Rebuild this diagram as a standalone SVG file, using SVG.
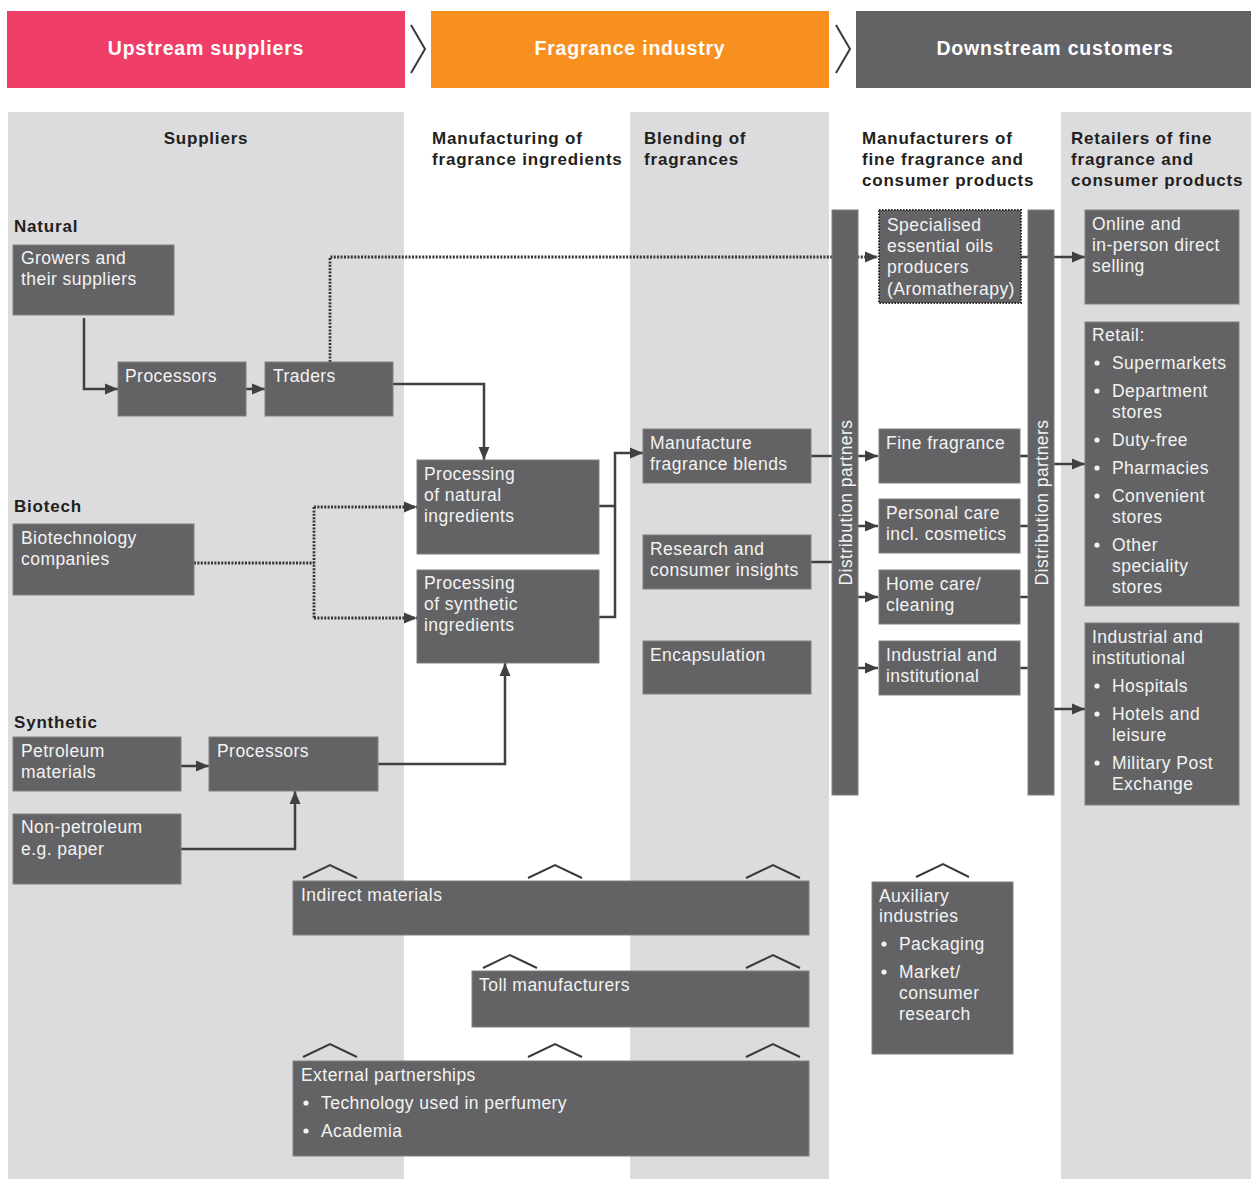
<svg xmlns="http://www.w3.org/2000/svg" width="1251" height="1179" viewBox="0 0 1251 1179">
<style>
.bg{fill:#dcdcde}
.box{fill:#636365;stroke:#808083;stroke-width:1}
.t{font-family:"Liberation Sans",Arial,sans-serif;font-size:17.5px;letter-spacing:0.45px;fill:#f3f3f3}
.h{font-family:"Liberation Sans",Arial,sans-serif;font-size:17px;font-weight:bold;letter-spacing:0.8px;fill:#231f20}
.band{font-family:"Liberation Sans",Arial,sans-serif;font-size:19.5px;font-weight:bold;letter-spacing:0.8px;fill:#ffffff;text-anchor:middle}
.c{fill:none;stroke:#404041;stroke-width:2.5}
.d{fill:none;stroke:#353536;stroke-width:2.8;stroke-dasharray:2 1.4}
.chev{fill:none;stroke:#3a3a3b;stroke-width:2}
.bul{fill:#f3f3f3}
</style>
<defs>
<marker id="ah" markerUnits="userSpaceOnUse" markerWidth="14" markerHeight="12" refX="13" refY="6" orient="auto">
<path d="M0,0.5 L13,6 L0,11.5 z" fill="#404041"/>
</marker>
</defs>
<rect width="1251" height="1179" fill="#ffffff"/>
<g id="columns">
<rect class="bg" x="8" y="112" width="396" height="1067"/>
<rect class="bg" x="630" y="112" width="199" height="1067"/>
<rect class="bg" x="1061" y="112" width="190" height="1067"/>
</g>
<g id="header">
<rect x="7" y="11" width="398" height="77" fill="#ef3e67"/>
<text class="band" x="206" y="55">Upstream suppliers</text>
<rect x="431" y="11" width="398" height="77" fill="#f7901f"/>
<text class="band" x="630" y="55">Fragrance industry</text>
<rect x="856" y="11" width="395" height="77" fill="#636366"/>
<text class="band" x="1055" y="55">Downstream customers</text>
<polyline class="chev" points="411,25 425,49 411,73"/>
<polyline class="chev" points="836,25 850,49 836,73"/>
</g>
<g id="column-headers">
<text class="h" x="206" y="144" text-anchor="middle">Suppliers</text>
<text class="h" x="432" y="144">Manufacturing of</text>
<text class="h" x="432" y="165">fragrance ingredients</text>
<text class="h" x="644" y="144">Blending of</text>
<text class="h" x="644" y="165">fragrances</text>
<text class="h" x="862" y="144">Manufacturers of</text>
<text class="h" x="862" y="165">fine fragrance and</text>
<text class="h" x="862" y="186">consumer products</text>
<text class="h" x="1071" y="144">Retailers of fine</text>
<text class="h" x="1071" y="165">fragrance and</text>
<text class="h" x="1071" y="186">consumer products</text>
<text class="h" x="14" y="232">Natural</text>
<text class="h" x="14" y="512">Biotech</text>
<text class="h" x="14" y="728">Synthetic</text>
</g>
<g id="connectors">
<path class="c" d="M84,318 V389 H118" marker-end="url(#ah)"/>
<path class="c" d="M246,389 H265" marker-end="url(#ah)"/>
<path class="d" d="M330,362 V257 H878" marker-end="url(#ah)"/>
<path class="c" d="M393,384 H484 V460" marker-end="url(#ah)"/>
<path class="d" d="M194,563 H314"/>
<path class="d" d="M314,507 V618"/>
<path class="d" d="M314,507 H417" marker-end="url(#ah)"/>
<path class="d" d="M314,618 H417" marker-end="url(#ah)"/>
<path class="c" d="M181,766 H209" marker-end="url(#ah)"/>
<path class="c" d="M181,849 H295 V791" marker-end="url(#ah)"/>
<path class="c" d="M378,764 H505 V663" marker-end="url(#ah)"/>
<path class="c" d="M599,617 H615 V506"/>
<path class="c" d="M599,506 H615 V453 H643" marker-end="url(#ah)"/>
<path class="c" d="M811,456 H832"/>
<path class="c" d="M811,562 H832"/>
<path class="c" d="M858,456 H878" marker-end="url(#ah)"/>
<path class="c" d="M858,526 H878" marker-end="url(#ah)"/>
<path class="c" d="M858,597 H878" marker-end="url(#ah)"/>
<path class="c" d="M858,668 H878" marker-end="url(#ah)"/>
<path class="c" d="M1020,257 H1028"/>
<path class="c" d="M1020,456 H1028"/>
<path class="c" d="M1020,526 H1028"/>
<path class="c" d="M1020,597 H1028"/>
<path class="c" d="M1020,668 H1028"/>
<path class="c" d="M1054,257 H1085" marker-end="url(#ah)"/>
<path class="c" d="M1054,464 H1085" marker-end="url(#ah)"/>
<path class="c" d="M1054,709 H1085" marker-end="url(#ah)"/>
<polyline class="chev" points="303,878 330,865 357,878"/>
<polyline class="chev" points="528,878 555,865 582,878"/>
<polyline class="chev" points="746,878 773,865 800,878"/>
<polyline class="chev" points="483,968 510,955 537,968"/>
<polyline class="chev" points="746,968 773,955 800,968"/>
<polyline class="chev" points="303,1057 330,1044 357,1057"/>
<polyline class="chev" points="528,1057 555,1044 582,1057"/>
<polyline class="chev" points="746,1057 773,1044 800,1057"/>
<polyline class="chev" points="916,877 943,864 969,877"/>
</g>
<g id="growers"><rect class="box" x="13" y="245" width="161" height="70"/><text class="t" x="21" y="264">Growers and</text><text class="t" x="21" y="285">their suppliers</text></g>
<g id="processors-natural"><rect class="box" x="118" y="362" width="128" height="54"/><text class="t" x="125" y="382">Processors</text></g>
<g id="traders"><rect class="box" x="265" y="362" width="128" height="54"/><text class="t" x="273" y="382">Traders</text></g>
<g id="biotech"><rect class="box" x="13" y="524" width="181" height="71"/><text class="t" x="21" y="544">Biotechnology</text><text class="t" x="21" y="565">companies</text></g>
<g id="petroleum"><rect class="box" x="13" y="737" width="168" height="54"/><text class="t" x="21" y="757">Petroleum</text><text class="t" x="21" y="778">materials</text></g>
<g id="processors-synthetic"><rect class="box" x="209" y="737" width="169" height="54"/><text class="t" x="217" y="757">Processors</text></g>
<g id="non-petroleum"><rect class="box" x="13" y="814" width="168" height="70"/><text class="t" x="21" y="833">Non-petroleum</text><text class="t" x="21" y="855">e.g. paper</text></g>
<g id="processing-natural"><rect class="box" x="417" y="460" width="182" height="94"/><text class="t" x="424" y="480">Processing</text><text class="t" x="424" y="501">of natural</text><text class="t" x="424" y="522">ingredients</text></g>
<g id="processing-synthetic"><rect class="box" x="417" y="570" width="182" height="93"/><text class="t" x="424" y="589">Processing</text><text class="t" x="424" y="610">of synthetic</text><text class="t" x="424" y="631">ingredients</text></g>
<g id="manufacture-blends"><rect class="box" x="643" y="429" width="168" height="54"/><text class="t" x="650" y="449">Manufacture</text><text class="t" x="650" y="470">fragrance blends</text></g>
<g id="research"><rect class="box" x="643" y="535" width="168" height="54"/><text class="t" x="650" y="555">Research and</text><text class="t" x="650" y="576">consumer insights</text></g>
<g id="encapsulation"><rect class="box" x="643" y="641" width="168" height="53"/><text class="t" x="650" y="661">Encapsulation</text></g>
<g id="distribution-1"><rect class="box" x="832" y="210" width="26" height="585"/><text class="t" transform="translate(852,502.5) rotate(-90)" text-anchor="middle">Distribution partners</text></g>
<g id="distribution-2"><rect class="box" x="1028" y="210" width="26" height="585"/><text class="t" transform="translate(1048,502.5) rotate(-90)" text-anchor="middle">Distribution partners</text></g>
<g id="specialised"><rect x="879" y="210" width="142" height="93" fill="#636365" stroke="#2e2e2f" stroke-width="2" stroke-dasharray="1.6 1.4"/><text class="t" x="887" y="231">Specialised</text><text class="t" x="887" y="252">essential oils</text><text class="t" x="887" y="273">producers</text><text class="t" x="887" y="295" letter-spacing="0.1">(Aromatherapy)</text></g>
<g id="fine-fragrance"><rect class="box" x="879" y="429" width="141" height="54"/><text class="t" x="886" y="449">Fine fragrance</text></g>
<g id="personal-care"><rect class="box" x="879" y="499" width="141" height="54"/><text class="t" x="886" y="519">Personal care</text><text class="t" x="886" y="540">incl. cosmetics</text></g>
<g id="home-care"><rect class="box" x="879" y="570" width="141" height="54"/><text class="t" x="886" y="590">Home care/</text><text class="t" x="886" y="611">cleaning</text></g>
<g id="industrial-mfr"><rect class="box" x="879" y="641" width="141" height="54"/><text class="t" x="886" y="661">Industrial and</text><text class="t" x="886" y="682">institutional</text></g>
<g id="online"><rect class="box" x="1085" y="210" width="154" height="94"/><text class="t" x="1092" y="230">Online and</text><text class="t" x="1092" y="251">in-person direct</text><text class="t" x="1092" y="272">selling</text></g>
<g id="retail"><rect class="box" x="1085" y="322" width="154" height="284"/>
<text class="t" x="1092" y="341">Retail:</text>
<circle class="bul" cx="1097" cy="363" r="2.6"/><text class="t" x="1112" y="369">Supermarkets</text>
<circle class="bul" cx="1097" cy="391" r="2.6"/><text class="t" x="1112" y="397">Department</text><text class="t" x="1112" y="418">stores</text>
<circle class="bul" cx="1097" cy="440" r="2.6"/><text class="t" x="1112" y="446">Duty-free</text>
<circle class="bul" cx="1097" cy="468" r="2.6"/><text class="t" x="1112" y="474">Pharmacies</text>
<circle class="bul" cx="1097" cy="496" r="2.6"/><text class="t" x="1112" y="502">Convenient</text><text class="t" x="1112" y="523">stores</text>
<circle class="bul" cx="1097" cy="545" r="2.6"/><text class="t" x="1112" y="551">Other</text><text class="t" x="1112" y="572">speciality</text><text class="t" x="1112" y="593">stores</text>
</g>
<g id="industrial-retail"><rect class="box" x="1085" y="623" width="154" height="182"/>
<text class="t" x="1092" y="643">Industrial and</text><text class="t" x="1092" y="664">institutional</text>
<circle class="bul" cx="1097" cy="686" r="2.6"/><text class="t" x="1112" y="692">Hospitals</text>
<circle class="bul" cx="1097" cy="714" r="2.6"/><text class="t" x="1112" y="720">Hotels and</text><text class="t" x="1112" y="741">leisure</text>
<circle class="bul" cx="1097" cy="763" r="2.6"/><text class="t" x="1112" y="769">Military Post</text><text class="t" x="1112" y="790">Exchange</text>
</g>
<g id="indirect-materials"><rect class="box" x="293" y="881" width="516" height="54"/><text class="t" x="301" y="901">Indirect materials</text></g>
<g id="toll-manufacturers"><rect class="box" x="472" y="971" width="337" height="56"/><text class="t" x="479" y="991">Toll manufacturers</text></g>
<g id="external-partnerships"><rect class="box" x="293" y="1061" width="516" height="95"/>
<text class="t" x="301" y="1081">External partnerships</text>
<circle class="bul" cx="306" cy="1103" r="2.6"/><text class="t" x="321" y="1109">Technology used in perfumery</text>
<circle class="bul" cx="306" cy="1131" r="2.6"/><text class="t" x="321" y="1137">Academia</text>
</g>
<g id="auxiliary"><rect class="box" x="872" y="882" width="141" height="172"/>
<text class="t" x="879" y="902">Auxiliary</text><text class="t" x="879" y="922">industries</text>
<circle class="bul" cx="884" cy="944" r="2.6"/><text class="t" x="899" y="950">Packaging</text>
<circle class="bul" cx="884" cy="972" r="2.6"/><text class="t" x="899" y="978">Market/</text><text class="t" x="899" y="999">consumer</text><text class="t" x="899" y="1020">research</text>
</g>
</svg>
